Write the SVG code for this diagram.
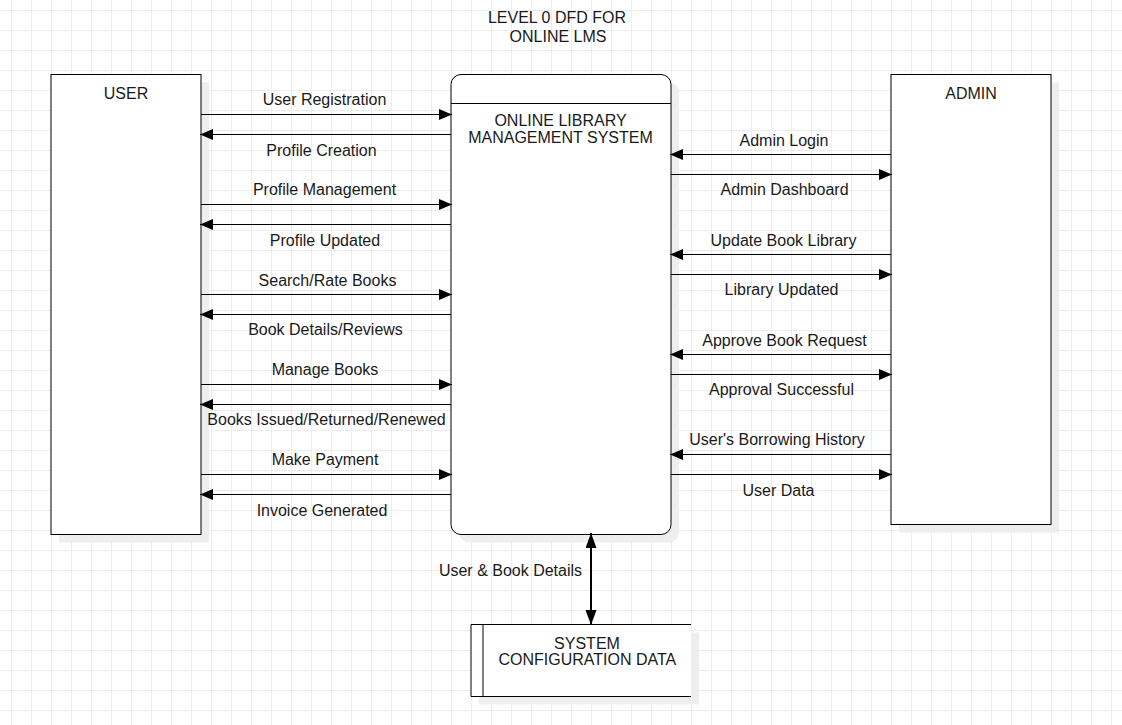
<svg xmlns="http://www.w3.org/2000/svg" width="1122" height="725" viewBox="0 0 1122 725">
  <defs>
    <pattern id="grid" x="11" y="10" width="20" height="20" patternUnits="userSpaceOnUse">
      <path d="M0.5,0 V20 M0,0.5 H20" stroke="#ededed" stroke-width="1" fill="none"/>
    </pattern>
    <marker id="arr" markerUnits="userSpaceOnUse" markerWidth="14" markerHeight="12" refX="13" refY="5.5" orient="auto">
      <path d="M0,0 L13,5.5 L0,11 z" fill="#000"/>
    </marker>
    <marker id="arr2" markerUnits="userSpaceOnUse" markerWidth="16" markerHeight="12" refX="15" refY="5.5" orient="auto-start-reverse">
      <path d="M0,0 L15,5.5 L0,11 z" fill="#000"/>
    </marker>
  </defs>
  <style>
    .box { fill: #ffffff; stroke: #000000; stroke-width: 1; }
    .shadow { fill: #eeeeee; stroke: none; }
    .t { font-family: "Liberation Sans", Arial, sans-serif; font-size: 16px; fill: #1a1a1a; text-anchor: middle; }
    .flow { stroke: #000000; stroke-width: 1; fill: none; marker-end: url(#arr); }
  </style>
  <rect x="0" y="0" width="1122" height="725" fill="#ffffff"/>
  <rect x="0" y="0" width="1122" height="725" fill="url(#grid)"/>

  <g id="title">
    <text class="t" x="557" y="23">LEVEL 0 DFD FOR</text>
    <text class="t" x="558" y="41.5">ONLINE LMS</text>
  </g>

  <g id="user">
    <rect class="shadow" x="59" y="82.5" width="150" height="460"/>
    <rect class="box" x="51" y="74.5" width="150" height="460"/>
    <text class="t" x="126" y="99">USER</text>
  </g>

  <g id="process">
    <rect class="shadow" x="459" y="82.5" width="220" height="460" rx="10" ry="10"/>
    <rect class="box" x="451" y="74.5" width="220" height="460" rx="10" ry="10"/>
    <line x1="451" y1="103.5" x2="671" y2="103.5" stroke="#000" stroke-width="1"/>
    <text class="t" x="560.5" y="126">ONLINE LIBRARY</text>
    <text class="t" x="560.5" y="142.7">MANAGEMENT SYSTEM</text>
  </g>

  <g id="admin">
    <rect class="shadow" x="899" y="82.5" width="160" height="450"/>
    <rect class="box" x="891" y="74.5" width="160" height="450"/>
    <text class="t" x="971" y="99">ADMIN</text>
  </g>

  <g id="datastore">
    <rect class="shadow" x="479" y="632.5" width="220" height="72"/>
    <rect x="471" y="624.5" width="220" height="72" fill="#ffffff" stroke="none"/>
    <path d="M691,624.5 H471 V696.5 H691 M483,624.5 V696.5" fill="none" stroke="#000" stroke-width="1"/>
    <text class="t" x="587" y="649">SYSTEM</text>
    <text class="t" x="587.3" y="665">CONFIGURATION DATA</text>
  </g>

  <g id="connectors">
    <!-- USER side -->
    <line class="flow" x1="201" y1="114.5" x2="452" y2="114.5"/>
    <line class="flow" x1="451" y1="134.5" x2="200" y2="134.5"/>
    <line class="flow" x1="201" y1="204.5" x2="452" y2="204.5"/>
    <line class="flow" x1="451" y1="224.5" x2="200" y2="224.5"/>
    <line class="flow" x1="201" y1="294.5" x2="452" y2="294.5"/>
    <line class="flow" x1="451" y1="314.5" x2="200" y2="314.5"/>
    <line class="flow" x1="201" y1="384.5" x2="452" y2="384.5"/>
    <line class="flow" x1="451" y1="404.5" x2="200" y2="404.5"/>
    <line class="flow" x1="201" y1="474.5" x2="452" y2="474.5"/>
    <line class="flow" x1="451" y1="494.5" x2="200" y2="494.5"/>
    <!-- ADMIN side -->
    <line class="flow" x1="891" y1="154.5" x2="670" y2="154.5"/>
    <line class="flow" x1="671" y1="174.5" x2="892" y2="174.5"/>
    <line class="flow" x1="891" y1="254.5" x2="670" y2="254.5"/>
    <line class="flow" x1="671" y1="274.5" x2="892" y2="274.5"/>
    <line class="flow" x1="891" y1="354.5" x2="670" y2="354.5"/>
    <line class="flow" x1="671" y1="374.5" x2="892" y2="374.5"/>
    <line class="flow" x1="891" y1="454.5" x2="670" y2="454.5"/>
    <line class="flow" x1="671" y1="474.5" x2="892" y2="474.5"/>
    <!-- store -->
    <line x1="591" y1="533" x2="591" y2="625" stroke="#000" stroke-width="2" marker-start="url(#arr2)" marker-end="url(#arr2)"/>

    <text class="t" x="324.5" y="105">User Registration</text>
    <text class="t" x="321.5" y="156">Profile Creation</text>
    <text class="t" x="324.5" y="195">Profile Management</text>
    <text class="t" x="325" y="246">Profile Updated</text>
    <text class="t" x="327.5" y="286">Search/Rate Books</text>
    <text class="t" x="325.5" y="335">Book Details/Reviews</text>
    <text class="t" x="325" y="375">Manage Books</text>
    <text class="t" x="326.5" y="425">Books Issued/Returned/Renewed</text>
    <text class="t" x="325" y="465">Make Payment</text>
    <text class="t" x="322" y="516">Invoice Generated</text>

    <text class="t" x="784" y="146">Admin Login</text>
    <text class="t" x="784.5" y="195">Admin Dashboard</text>
    <text class="t" x="783.5" y="246">Update Book Library</text>
    <text class="t" x="781.5" y="295">Library Updated</text>
    <text class="t" x="784.5" y="346">Approve Book Request</text>
    <text class="t" x="781.5" y="395">Approval Successful</text>
    <text class="t" x="777" y="445">User's Borrowing History</text>
    <text class="t" x="778.5" y="496">User Data</text>

    <text class="t" x="510.5" y="576">User &amp; Book Details</text>
  </g>
</svg>
